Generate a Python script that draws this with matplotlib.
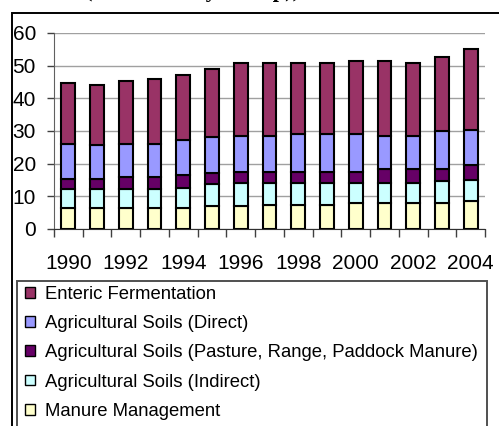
import numpy as np
import matplotlib.pyplot as plt
from matplotlib.patches import Patch, Rectangle

plt.rcParams['font.family'] = ['Liberation Sans', 'DejaVu Sans']

years = list(range(1990, 2005))

# emissions by source, stacked bottom to top
manure   = [6.5, 6.5, 6.5, 6.5, 6.5, 7.1, 7.1, 7.4, 7.4, 7.4, 7.9, 7.9, 7.9, 7.9, 8.6]
indirect = [5.8, 5.8, 5.8, 5.8, 6.2, 6.6, 6.9, 6.6, 6.6, 6.6, 6.1, 6.1, 6.1, 6.8, 6.4]
pasture  = [3.0, 3.0, 3.7, 3.7, 3.9, 3.4, 3.6, 3.6, 3.6, 3.6, 3.6, 4.3, 4.3, 3.6, 4.6]
direct   = [10.8, 10.3, 10.1, 10.1, 10.7, 11.0, 11.0, 11.0, 11.5, 11.5, 11.5, 10.3, 10.3, 11.6, 10.8]
enteric  = [18.7, 18.6, 19.3, 19.9, 19.8, 20.9, 22.2, 22.2, 21.7, 21.7, 22.3, 22.8, 22.2, 22.8, 24.7]

series = [
    ("Manure Management", manure, "#FFFFCC"),
    ("Agricultural Soils (Indirect)", indirect, "#CCFFFF"),
    ("Agricultural Soils (Pasture, Range, Paddock Manure)", pasture, "#660066"),
    ("Agricultural Soils (Direct)", direct, "#9999FF"),
    ("Enteric Fermentation", enteric, "#993366"),
]

W, H = 499, 426
fig = plt.figure(figsize=(W / 100, H / 100), dpi=100)
ax = fig.add_axes([54 / W, 1 - 229 / H, 431 / W, 196 / H])

x = np.arange(len(years))
bottom = np.zeros(len(years))
for name, vals, col in series:
    ax.bar(x, vals, width=0.48, bottom=bottom, color=col,
           edgecolor="black", linewidth=1.5, zorder=3)
    bottom += np.array(vals)

ax.set_xlim(-0.5, len(years) - 0.5)
ax.set_ylim(0, 60)
ax.set_yticks(range(0, 61, 10))
ax.yaxis.grid(True, color="#a0a0a0", linewidth=1.0, zorder=0)

# tick marks between categories, labels under every other year
ax.set_xticks(np.arange(-0.5, len(years), 1.0))
ax.set_xticklabels([])
ax.set_xticks(x[::2], minor=True)
ax.set_xticklabels([str(y) for y in years[::2]], minor=True)
ax.tick_params(axis="x", which="major", length=6, width=1, color="#404040", direction="out")
ax.tick_params(axis="x", which="minor", length=0, pad=18, labelsize=15)
ax.tick_params(axis="y", length=5, width=1, color="#404040", pad=8, labelsize=15)

for s in ["top", "right"]:
    ax.spines[s].set_visible(False)
ax.spines["left"].set_color("#606060")
ax.spines["bottom"].set_color("#303030")

# outer chart frame and legend box
fig.patches.append(Rectangle((11.5 / W, -0.1), 1.1, 1.1 - 13 / H, transform=fig.transFigure,
                             fill=False, edgecolor="black", linewidth=1.4))
fig.patches.append(Rectangle((16.5 / W, -0.1), (487 - 16.5) / W, 0.1 + 1 - 281 / H,
                             transform=fig.transFigure, fill=False,
                             edgecolor="#505050", linewidth=1.4))

handles = [Patch(facecolor=c, edgecolor="black", linewidth=1.0, label=n)
           for n, v, c in reversed(series)]
fig.legend(handles=handles, loc="upper left", bbox_to_anchor=(25 / W, 1 - 286 / H),
           frameon=False, fontsize=13.3, handlelength=0.52, handleheight=0.52,
           handletextpad=0.55, labelspacing=0.66, borderpad=0, borderaxespad=0)

fig.text(85 / W, 1 + 2.5 / H, "(Emissions by Group))", fontfamily="Liberation Serif",
         fontweight="bold", fontsize=16, ha="left", va="baseline")

fig.savefig("out.png", dpi=100)
